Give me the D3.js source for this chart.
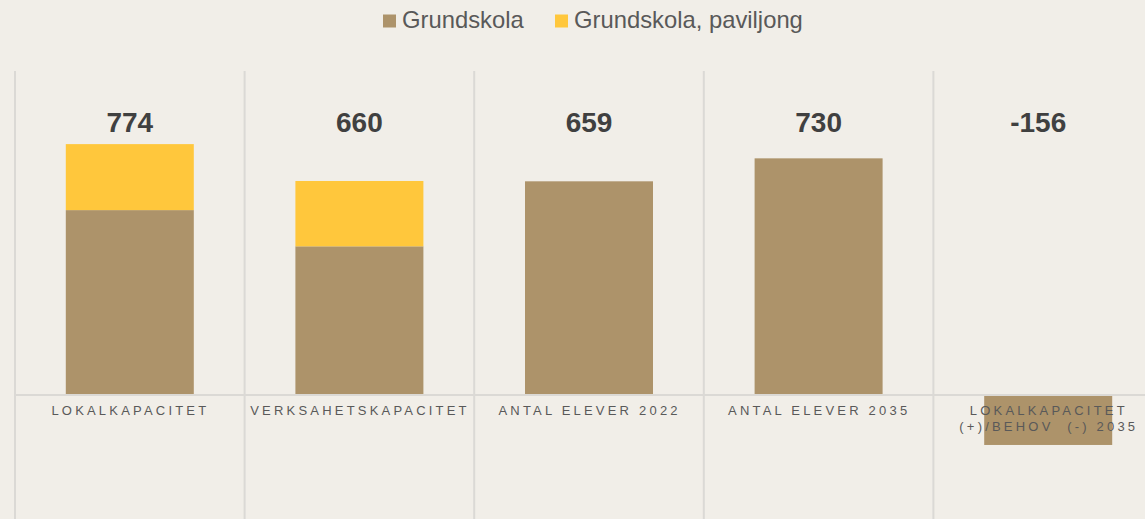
<!DOCTYPE html>
<html>
<head>
<meta charset="utf-8">
<script src="https://cdn.jsdelivr.net/npm/d3@7"></script>
<style>
  html, body { margin: 0; padding: 0; background: #f1eee8; }
  svg { display: block; font-family: "Liberation Sans", Arial, sans-serif; }
</style>
</head>
<body>
<svg id="chart" width="1145" height="519"></svg>
<script>
// chart data
const categories = ["LOKALKAPACITET", "VERKSAHETSKAPACITET", "ANTAL ELEVER 2022", "ANTAL ELEVER 2035", "LOKALKAPACITET\n(+)/BEHOV  (-) 2035"];
const grundskola = [570, 458, 659, 730, -156];
const paviljong = [204, 202, 0, 0, 0];
const totals = [774, 660, 659, 730, -156];
const seriesNames = ["Grundskola", "Grundskola, paviljong"];
const colors = ["#ad936a", "#ffc73c"];

const svg = d3.select("#chart");
const width = 1145, height = 519;

const x = d3.scaleBand()
  .domain(categories)
  .range([15, 15 + 5 * 229.6])
  .paddingInner(0)
  .paddingOuter(0);

const y = d3.scaleLinear()
  .domain([0, 1000])
  .range([394.5, 71]);

const barW = 128;

// vertical gridlines (band borders)
const borders = categories.map(c => x(c));
svg.append("g")
  .selectAll("line")
  .data(borders)
  .join("line")
  .attr("x1", d => d).attr("x2", d => d)
  .attr("y1", 71).attr("y2", height)
  .attr("stroke", "#dbd9d5")
  .attr("stroke-width", 2);

// stacked data
const rows = categories.map((c, i) => ({ cat: c, g: grundskola[i], p: paviljong[i], total: totals[i] }));

const bars = svg.append("g");
rows.forEach(d => {
  const cx = x(d.cat) + x.bandwidth() / 2;
  bars.append("rect")
    .attr("x", cx - barW / 2)
    .attr("width", barW)
    .attr("y", y(Math.max(0, d.g)))
    .attr("height", Math.abs(y(d.g) - y(0)))
    .attr("fill", colors[0]);
  if (d.p > 0) {
    bars.append("rect")
      .attr("x", cx - barW / 2)
      .attr("width", barW)
      .attr("y", y(d.g + d.p))
      .attr("height", y(d.g) - y(d.g + d.p))
      .attr("fill", colors[1]);
  }
});

// baseline
svg.append("line")
  .attr("x1", 15).attr("x2", width)
  .attr("y1", y(0) + 0.5).attr("y2", y(0) + 0.5)
  .attr("stroke", "#dbd9d5")
  .attr("stroke-width", 2);

// total labels (last one is pushed in from the chart edge)
svg.append("g")
  .selectAll("text")
  .data(rows)
  .join("text")
  .attr("x", (d, i) => x(d.cat) + x.bandwidth() / 2 - (i === rows.length - 1 ? 10 : 0))
  .attr("y", 132)
  .attr("text-anchor", "middle")
  .attr("font-size", 28)
  .attr("font-weight", "bold")
  .attr("fill", "#404040")
  .text(d => d.total);

// category labels
const ls = 3.2;
const catG = svg.append("g");
rows.forEach(d => {
  const lines = d.cat.split("\n");
  const t = catG.append("text")
    .attr("text-anchor", "middle")
    .attr("font-size", 13)
    .attr("fill", "#595959")
    .style("letter-spacing", ls + "px")
    .style("white-space", "pre");
  lines.forEach((l, k) => {
    t.append("tspan")
      .attr("x", x(d.cat) + x.bandwidth() / 2 + ls / 2 - 1)
      .attr("y", 415 + k * 16)
      .text(l);
  });
});

// legend
const legend = svg.append("g");
const legendItems = [{ x: 383, name: seriesNames[0], c: colors[0] }, { x: 555, name: seriesNames[1], c: colors[1] }];
legendItems.forEach(it => {
  legend.append("rect")
    .attr("x", it.x).attr("y", 14.5)
    .attr("width", 13).attr("height", 13)
    .attr("fill", it.c);
  legend.append("text")
    .attr("x", it.x + 19)
    .attr("y", 28)
    .attr("font-size", 23.8)
    .attr("fill", "#595959")
    .text(it.name);
});
</script>
</body>
</html>
